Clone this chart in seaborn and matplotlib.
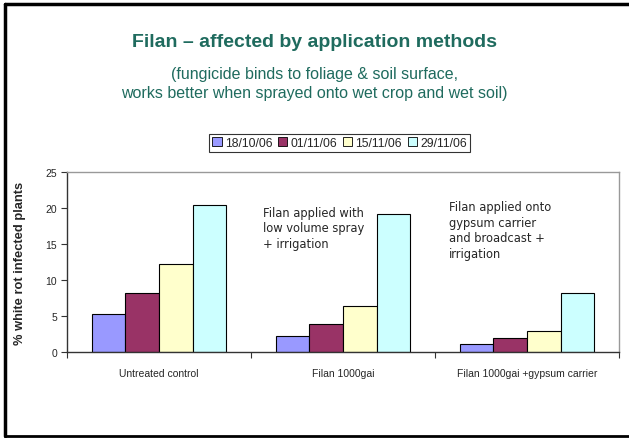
import pandas as pd
import matplotlib.pyplot as plt
import seaborn as sns
from matplotlib.lines import Line2D

# chart values
treatments = ['Untreated control', 'Filan 1000gai', 'Filan 1000gai +gypsum carrier']
dates = ['18/10/06', '01/11/06', '15/11/06', '29/11/06']
d_181006 = [5.2, 2.2, 1.1]
d_011106 = [8.2, 3.9, 1.9]
d_151106 = [12.2, 6.4, 2.9]
d_291106 = [20.5, 19.2, 8.2]
colors = ['#9999FF', '#993366', '#FFFFCC', '#CCFFFF']

rows = []
for date, vals in zip(dates, [d_181006, d_011106, d_151106, d_291106]):
    for t, v in zip(treatments, vals):
        rows.append({'Treatment': t, 'Date': date, 'Value': v})
df = pd.DataFrame(rows)

sns.set_style('white')
plt.rcParams['font.family'] = ['Liberation Sans', 'DejaVu Sans']

fig = plt.figure(figsize=(6.29, 4.39), dpi=100)
ax = fig.add_axes([0.1065, 0.1966, 0.8775, 0.4086])

sns.barplot(data=df, x='Treatment', y='Value', hue='Date', order=treatments,
            hue_order=dates, palette=colors, width=0.73, edgecolor='black',
            linewidth=0.8, saturation=1, ax=ax, legend=False)

ax.set_ylim(0, 25)
ax.set_xlim(-0.5, 2.5)
ax.set_yticks([0, 5, 10, 15, 20, 25])
ax.set_xticks([-0.5, 0.5, 1.5, 2.5], minor=False)
ax.set_xticklabels([])
ax.set_xticks([0, 1, 2], minor=True)
ax.set_xticklabels(treatments, minor=True, fontsize=7.5)
ax.tick_params(axis='x', which='major', direction='out', length=4, width=0.8, color='#333333', bottom=True)
ax.tick_params(axis='x', which='minor', length=0, pad=12)
ax.tick_params(axis='y', direction='out', length=4, width=0.8, color='#333333', left=True, labelsize=7.5, pad=3)
ax.set_xlabel('')
ax.set_ylabel('% white rot infected plants', fontsize=9.3, fontweight='bold', labelpad=14)

for side in ['top', 'right']:
    ax.spines[side].set_color('#999999')
    ax.spines[side].set_linewidth(1)
for side in ['left', 'bottom']:
    ax.spines[side].set_color('#333333')
    ax.spines[side].set_linewidth(1)

ax.text(0.355, 0.815, 'Filan applied with\nlow volume spray\n+ irrigation', transform=ax.transAxes,
        fontsize=8.3, va='top', ha='left', linespacing=1.25, family=['DejaVu Sans'])
ax.text(0.692, 0.845, 'Filan applied onto\ngypsum carrier\nand broadcast +\nirrigation', transform=ax.transAxes,
        fontsize=8.3, va='top', ha='left', linespacing=1.25, family=['DejaVu Sans'])

handles = [plt.Rectangle((0, 0), 1, 1, facecolor=c, edgecolor='black', linewidth=0.6) for c in colors]
leg = fig.legend(handles, dates, loc='center', bbox_to_anchor=(0.54, 0.672), ncol=4, fontsize=8.8,
                 frameon=True, fancybox=False, edgecolor='black', handlelength=0.75, handleheight=0.75,
                 handletextpad=0.25, columnspacing=0.5, borderpad=0.25, borderaxespad=0)
leg.get_frame().set_linewidth(0.8)

fig.text(0.5, 0.904, 'Filan \u2013 affected by application methods', ha='center', va='center',
         fontsize=14, fontweight='bold', color='#1F6B5E')
fig.text(0.5, 0.808, '(fungicide binds to foliage & soil surface,\nworks better when sprayed onto wet crop and wet soil)',
         ha='center', va='center', fontsize=11.5, color='#1F6B5E', linespacing=1.35)

# slide border
fig.add_artist(Line2D([0.008, 1], [0.989, 0.989], transform=fig.transFigure, color='black', lw=2.5))
fig.add_artist(Line2D([0.008, 0.008], [0.005, 0.989], transform=fig.transFigure, color='black', lw=2.5))
fig.add_artist(Line2D([0.008, 1], [0.005, 0.005], transform=fig.transFigure, color='black', lw=2))

fig.savefig('out.png', dpi=100)
